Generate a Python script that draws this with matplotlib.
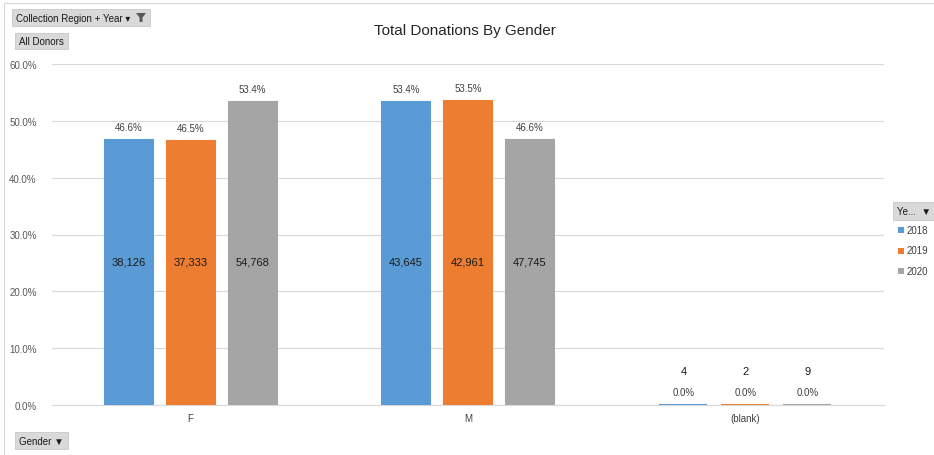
import matplotlib
matplotlib.use("Agg")
import matplotlib.pyplot as plt
from matplotlib.patches import Rectangle, Polygon
import numpy as np

plt.rcParams['font.family'] = ['Liberation Sans', 'DejaVu Sans']

categories = ["F", "M", "(blank)"]
years = ["2018", "2019", "2020"]
pct = {
    "2018": [46.6, 53.4, 0.0],
    "2019": [46.5, 53.5, 0.0],
    "2020": [53.4, 46.6, 0.0],
}
counts = {
    "2018": [38126, 43645, 4],
    "2019": [37333, 42961, 2],
    "2020": [54768, 47745, 9],
}
yticks = [0, 10, 20, 30, 40, 50, 60]
colors = {"2018": "#5B9BD5", "2019": "#ED7D31", "2020": "#A5A5A5"}

W, H = 934, 456
fig = plt.figure(figsize=(W / 100, H / 100), dpi=100)
fig.patch.set_facecolor("white")

ax = fig.add_axes([52 / W, (H - 406) / H, (884 - 52) / W, (406 - 65) / H])
x = np.arange(len(categories))
bw = 48 / 277.5
step = 62 / 277.5
for i, yr in enumerate(years):
    xs = x + (i - 1) * step
    ax.bar(xs, pct[yr], width=bw, color=colors[yr], edgecolor=colors[yr],
           linewidth=1.5, zorder=3)
    for j, (xx, v, c) in enumerate(zip(xs, pct[yr], counts[yr])):
        ax.text(xx, v + 1.4, f"{v:.1f}%", ha="center", va="bottom",
                fontsize=7, color="#404040", zorder=4)
        cy = 25.2 if v > 5 else 6.0
        ax.text(xx, cy, f"{c:,}", ha="center", va="center",
                fontsize=8, color="#1a1a1a", zorder=4)

ax.set_xlim(-0.5, 2.5)
ax.set_ylim(0, 60)
ax.set_yticks(yticks)
ax.set_yticklabels([f"{t:.1f}%" for t in yticks], fontsize=7, color="#595959")
ax.set_xticks(x)
ax.set_xticklabels(categories, fontsize=7, color="#404040")
ax.tick_params(axis="both", length=0, pad=6)
ax.tick_params(axis="y", pad=11)
ax.grid(axis="y", color="#D9D9D9", linewidth=0.8, zorder=0)
for s in ["top", "right", "left"]:
    ax.spines[s].set_visible(False)
ax.spines["bottom"].set_color("#D9D9D9")
ax.set_facecolor("white")

fig.text(465 / W, 1 - 31 / H, "Total Donations By Gender", ha="center",
         va="center", fontsize=11, color="#262626")

# outer frame
fig.patches.append(Rectangle((4 / W, -0.01), 1.0, 1 - 4 / H + 0.01,
                             transform=fig.transFigure, fill=False,
                             edgecolor="#D9D9D9", linewidth=0.8))

def button(x0, y0, x1, y1, label, arrow=""):
    fig.patches.append(Rectangle((x0 / W, 1 - y1 / H), (x1 - x0) / W, (y1 - y0) / H,
                                 transform=fig.transFigure, facecolor="#D9D9D9",
                                 edgecolor="#C8C8C8", linewidth=0.6))
    fig.text((x0 + 4) / W, 1 - ((y0 + y1) / 2) / H, label + arrow, ha="left",
             va="center", fontsize=7, color="#1a1a1a")

button(12, 10, 150, 27, "Collection Region + Year", " \u25BE")
# funnel icon
fig.patches.append(Polygon([(136 / W, 1 - 14 / H), (146 / W, 1 - 14 / H),
                            (142.5 / W, 1 - 18.5 / H), (142.5 / W, 1 - 23 / H),
                            (139.5 / W, 1 - 23 / H), (139.5 / W, 1 - 18.5 / H)],
                           closed=True, transform=fig.transFigure,
                           facecolor="#595959", edgecolor="none"))
button(15, 34, 68, 50, "All Donors")
button(15, 433, 68, 450, "Gender", " \u25BC")
button(893, 203, 934, 221, "Ye...", "  \u25BC")

for k, yr in enumerate(years):
    yy = 231 + k * 20.5
    fig.patches.append(Rectangle((898 / W, 1 - (yy + 3) / H), 6 / W, 6 / H,
                                 transform=fig.transFigure, facecolor=colors[yr],
                                 edgecolor="none"))
    fig.text(907 / W, 1 - yy / H, yr, ha="left", va="center", fontsize=7,
             color="#404040")

fig.savefig("out.png", dpi=100, facecolor="white")
